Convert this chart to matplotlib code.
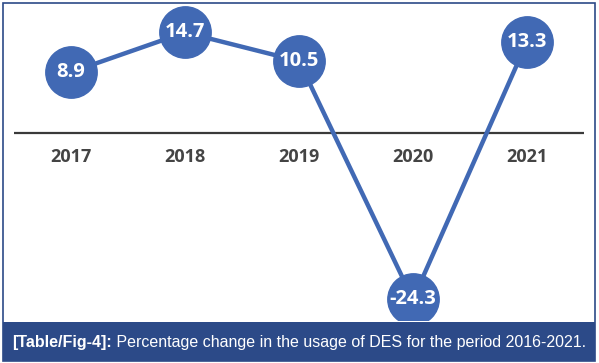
import matplotlib
matplotlib.use('Agg')
import matplotlib.pyplot as plt
from matplotlib.patches import Rectangle

# data
years = ['2017', '2018', '2019', '2020', '2021']
pct_change = [8.9, 14.7, 10.5, -24.3, 13.3]
caption_bold = '[Table/Fig-4]:'
caption_text = ' Percentage change in the usage of DES for the period 2016-2021.'

W, H = 599, 363
fig = plt.figure(figsize=(W / 100, H / 100), dpi=100)
fig.patch.set_facecolor('white')

blue = '#4169b4'
navy = '#2c4a88'

# plot area
ax = fig.add_axes([14 / W, (H - 320) / H, 570 / W, 315 / H])
ax.set_xlim(-0.5, 4.5)
ax.set_ylim(-27.3, 18.7)
ax.axis('off')

ax.axhline(0, color='#3a3a3a', lw=1.6, zorder=1)
x = list(range(len(years)))
ax.plot(x, pct_change, color=blue, lw=3.2, zorder=2,
        marker='o', markersize=37, markerfacecolor=blue, markeredgecolor=blue)

for xi, v in zip(x, pct_change):
    ax.text(xi, v, f'{v}', ha='center', va='center', color='white',
            fontsize=14.5, fontweight='bold', family='Open Sans', zorder=3)

for xi, yr in zip(x, years):
    ax.annotate(yr, xy=(xi, 0), xytext=(0, -24), textcoords='offset pixels',
                ha='center', va='center', color='#444444', fontsize=13,
                fontweight='bold', family='Open Sans')

# caption band
fig.patches.append(Rectangle((3 / W, 2 / H), 592 / W, 39 / H,
                             transform=fig.transFigure, facecolor=navy,
                             edgecolor='none', zorder=0))
# frame
fig.patches.append(Rectangle((3 / W, 2 / H), 592 / W, 358 / H,
                             transform=fig.transFigure, facecolor='none',
                             edgecolor=navy, lw=1.2, zorder=5))

t = fig.text(12 / W, 21 / H, caption_bold, color='white', fontsize=11.5,
             fontweight='bold', family='Liberation Sans', va='center', ha='left')
fig.canvas.draw()
bb = t.get_window_extent()
fig.text(bb.x1 / W, 21 / H, caption_text, color='white', fontsize=11.5,
         family='Liberation Sans', va='center', ha='left')

plt.savefig('out.png', dpi=100)
plt.close()
